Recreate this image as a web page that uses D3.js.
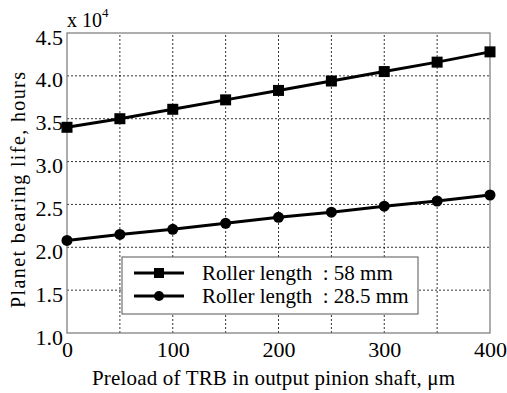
<!DOCTYPE html>
<html>
<head>
<meta charset="utf-8">
<script src="https://cdn.jsdelivr.net/npm/d3@7.9.0/dist/d3.min.js"></script>
<style>
  body { margin: 0; background: #fff; }
  text { font-family: "Liberation Serif", "Times New Roman", serif; fill: #000; }
</style>
</head>
<body>
<svg id="chart" width="507" height="393"></svg>
<script>
// data (values in units of 1e4 hours)
const preload = [0, 50, 100, 150, 200, 250, 300, 350, 400];
const life58 = [3.40, 3.50, 3.61, 3.72, 3.83, 3.94, 4.05, 4.16, 4.28];
const life285 = [2.08, 2.15, 2.21, 2.28, 2.35, 2.41, 2.48, 2.54, 2.61];
const xTicks = [0, 100, 200, 300, 400];
const yTicks = [1.0, 1.5, 2.0, 2.5, 3.0, 3.5, 4.0, 4.5];
const seriesNames = ['Roller length\u00a0 : 58 mm', 'Roller length\u00a0 : 28.5 mm'];

const margin = { left: 67, right: 17, top: 33, bottom: 60 };
const width = 507, height = 393;

const svg = d3.select('#chart');

const x = d3.scaleLinear().domain([0, 400]).range([margin.left, width - margin.right]);
const y = d3.scaleLinear().domain([1.0, 4.5]).range([height - margin.bottom, margin.top]);

// grid lines
const grid = svg.append('g');
grid.selectAll('.gx')
  .data(d3.range(0, 401, 50).filter(d => d > 0 && d < 400))
  .join('line')
  .attr('x1', d => x(d)).attr('x2', d => x(d))
  .attr('y1', y(1.0)).attr('y2', y(4.5))
  .attr('stroke', '#000').attr('stroke-width', 0.8)
  .attr('stroke-dasharray', '2,2');
grid.selectAll('.gy')
  .data(yTicks.slice(1, -1))
  .join('line')
  .attr('x1', x(0)).attr('x2', x(400))
  .attr('y1', d => y(d)).attr('y2', d => y(d))
  .attr('stroke', '#000').attr('stroke-width', 0.8)
  .attr('stroke-dasharray', '2,2');

// frame
svg.append('rect')
  .attr('x', x(0)).attr('y', y(4.5))
  .attr('width', x(400) - x(0)).attr('height', y(1.0) - y(4.5))
  .attr('fill', 'none').attr('stroke', '#777').attr('stroke-width', 1.2);

// axes
const xAxis = svg.append('g')
  .attr('transform', `translate(0,${y(1.0)})`)
  .call(d3.axisBottom(x).tickValues(xTicks).tickSize(0).tickPadding(8));
const yAxis = svg.append('g')
  .attr('transform', `translate(${x(0)},0)`)
  .call(d3.axisLeft(y).tickValues(yTicks).tickFormat(d3.format('.1f')).tickSize(0).tickPadding(4));
[xAxis, yAxis].forEach(a => {
  a.select('.domain').remove();
  a.selectAll('text').attr('font-family', '"Liberation Serif", serif').attr('font-size', 22).attr('fill', '#000');
});
yAxis.selectAll('text').attr('dy', '0.5em');

// exponent label
const expo = svg.append('text').attr('x', x(0)).attr('y', 27).attr('font-size', 20);
expo.append('tspan').text('x 10');
expo.append('tspan').attr('font-size', 13).attr('dy', -10).text('4');

// axis titles
svg.append('text')
  .attr('x', 92).attr('y', 385)
  .attr('font-size', 21)
  .attr('textLength', 363).attr('lengthAdjust', 'spacing')
  .text('Preload of TRB in output pinion shaft, \u03bcm');
svg.append('text')
  .attr('transform', `translate(25,190) rotate(-90)`)
  .attr('text-anchor', 'middle').attr('font-size', 20)
  .attr('textLength', 236).attr('lengthAdjust', 'spacing')
  .text('Planet bearing life, hours');

// lines and markers
const line = d3.line().x((d, i) => x(preload[i])).y(d => y(d));
const series = [life58, life285];
series.forEach((vals, s) => {
  svg.append('path').datum(vals)
    .attr('d', line).attr('fill', 'none')
    .attr('stroke', '#000').attr('stroke-width', 3);
  if (s === 0) {
    svg.selectAll(null).data(vals).join('rect')
      .attr('x', (d, i) => x(preload[i]) - 5.5).attr('y', d => y(d) - 5.5)
      .attr('width', 11).attr('height', 11).attr('fill', '#000');
  } else {
    svg.selectAll(null).data(vals).join('circle')
      .attr('cx', (d, i) => x(preload[i])).attr('cy', d => y(d))
      .attr('r', 5.5).attr('fill', '#000');
  }
});

// legend
const lg = svg.append('g');
lg.append('rect')
  .attr('x', 122).attr('y', 257).attr('width', 296).attr('height', 57)
  .attr('fill', '#fff').attr('stroke', '#555').attr('stroke-width', 1);
seriesNames.forEach((name, i) => {
  const cy = 273 + i * 23;
  lg.append('line')
    .attr('x1', 134).attr('x2', 184).attr('y1', cy).attr('y2', cy)
    .attr('stroke', '#000').attr('stroke-width', 3);
  if (i === 0) {
    lg.append('rect').attr('x', 154).attr('y', cy - 5).attr('width', 10).attr('height', 10).attr('fill', '#000');
  } else {
    lg.append('circle').attr('cx', 159).attr('cy', cy).attr('r', 5).attr('fill', '#000');
  }
  lg.append('text')
    .attr('x', 202).attr('y', cy + 7).attr('font-size', 21)
    .text(name);
});
</script>
</body>
</html>
